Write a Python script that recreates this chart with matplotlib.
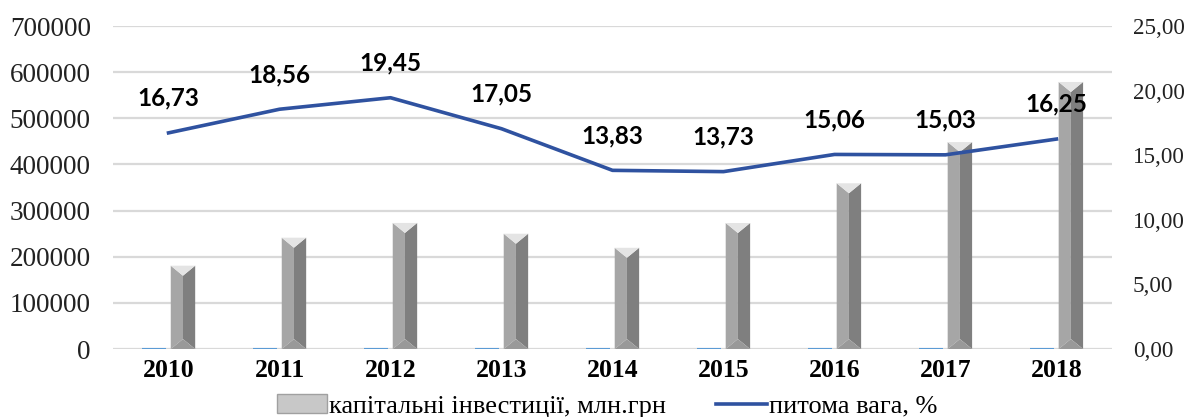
import numpy as np
import matplotlib
matplotlib.use("Agg")
import matplotlib.pyplot as plt
from matplotlib.patches import Polygon, Patch
from matplotlib.lines import Line2D

years = ["2010", "2011", "2012", "2013", "2014", "2015", "2016", "2017", "2018"]
invest = [180576, 241286, 273256, 249873, 219420, 273116, 359216, 448462, 578726]
share = [16.73, 18.56, 19.45, 17.05, 13.83, 13.73, 15.06, 15.03, 16.25]
share_labels = ["16,73", "18,56", "19,45", "17,05", "13,83", "13,73", "15,06", "15,03", "16,25"]

serif = "Liberation Serif"
W, H = 11.95, 4.17
fig = plt.figure(figsize=(W, H), dpi=100)
ax = fig.add_axes([0.0946, 0.163, 0.8359, 0.7746])
ax2 = ax.twinx()

x = np.arange(len(years))
bw = 0.22
off = 0.13

ax.set_xlim(-0.5, len(years) - 0.5)
ax.set_ylim(0, 700000)
ax2.set_ylim(0, 25)

# grid
ax.set_yticks(np.arange(0, 700001, 100000))
ax.yaxis.grid(True, color="#D9D9D9", lw=1.6)
ax.set_axisbelow(True)

# small blue bars (share on primary axis, practically zero height)
ax.bar(x - off, share, width=bw, color="#5B9BD5", edgecolor="#5B9BD5", lw=1.5, zorder=2)

# beveled gray bars
ax_h_px = 0.7746 * H * 100
bev = 10 * 700000 / ax_h_px
for xi, v in zip(x + off, invest):
    x0, x1, xc = xi - bw / 2, xi + bw / 2, xi
    ax.add_patch(Polygon([(x0, 0), (xc, bev), (xc, v - bev), (x0, v)], closed=True,
                         fc="#A6A6A6", ec="none", zorder=3))
    ax.add_patch(Polygon([(x1, 0), (xc, bev), (xc, v - bev), (x1, v)], closed=True,
                         fc="#7F7F7F", ec="none", zorder=3))
    ax.add_patch(Polygon([(x0, v), (x1, v), (xc, v - bev)], closed=True,
                         fc="#E4E4E4", ec="none", zorder=3))
    ax.add_patch(Polygon([(x0, 0), (x1, 0), (xc, bev)], closed=True,
                         fc="#999999", ec="none", zorder=3))

# share line
ax2.plot(x, share, color="#2F52A0", lw=2.6, zorder=5)
for xi, v, s in zip(x, share, share_labels):
    ax2.annotate(s, (xi, v), xytext=(0, 25), textcoords="offset points",
                 ha="center", va="center", fontsize=17.5, fontweight="bold",
                 family="Lato", color="black")

ax.set_xticks(x)
ax.set_xticklabels(years, fontsize=18.5, fontweight="bold", family=serif)
ax.tick_params(axis="x", length=0, pad=7)
ax.set_yticklabels([str(v) for v in range(0, 700001, 100000)], fontsize=19.5, family=serif,
                   color="#222222")
ax.tick_params(axis="y", length=0, pad=16)
ax2.set_yticks(np.arange(0, 26, 5))
ax2.set_yticklabels(["%d,00" % v for v in range(0, 26, 5)], fontsize=16.6, family=serif,
                    color="#222222")
ax2.tick_params(axis="y", length=0, pad=15)

for a in (ax, ax2):
    for sp in a.spines.values():
        sp.set_visible(False)

handles = [Patch(facecolor="#C8C8C8", edgecolor="#A0A0A0"),
           Line2D([], [], color="#2F52A0", lw=2.6)]
fig.legend(handles, ["капітальні інвестиції, млн.грн", "питома вага, %"],
           loc="center", bbox_to_anchor=(0.508, 0.026), ncol=2, frameon=False,
           prop={"family": serif, "size": 19}, handlelength=1.9, handletextpad=0.1,
           columnspacing=1.9)

fig.savefig("out.png", dpi=100)
